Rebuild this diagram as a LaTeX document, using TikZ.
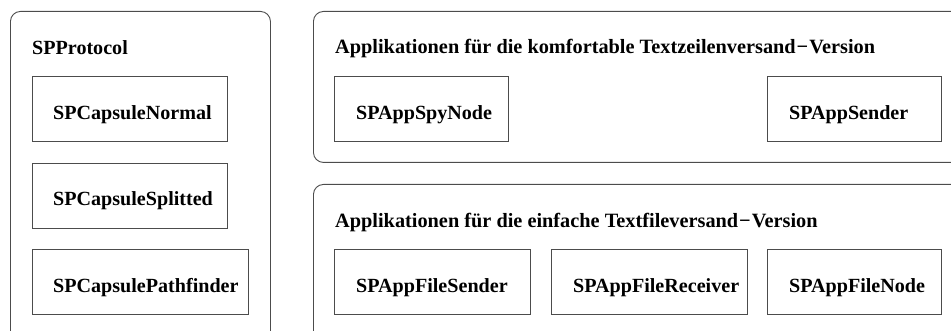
\documentclass[tikz,border=0pt]{standalone}
\usepackage{fontspec}
\setmainfont{Liberation Serif}
\begin{document}
\begin{tikzpicture}[x=1pt,y=-1pt,
  container/.style={draw=black!70, line width=0.9pt, rounded corners=10pt, anchor=north west, inner sep=0pt},
  box/.style={draw=black!70, line width=0.9pt, anchor=north west, inner sep=0pt, minimum height=65pt},
  lbl/.style={anchor=base west, inner sep=0pt, font=\fontsize{20.1}{24}\selectfont\bfseries},
  ttl/.style={anchor=base west, inner sep=0pt, font=\fontsize{20.3}{24}\selectfont\bfseries}]
\useasboundingbox (0,0) rectangle (951,331);
\clip (0,0) rectangle (951,331);
% containers
\node[container, minimum width=260pt, minimum height=340pt] (proto) at (10,11) {};
\node[container, minimum width=660pt, minimum height=151pt] (comf) at (313,11) {};
\node[container, minimum width=660pt, minimum height=170pt] (simple) at (313,184) {};
% titles
\node[lbl] (protoT) at (32,54.5) {SPProtocol};
\node[ttl] (comfT) at (335,54) {Applikationen für die komfortable Textzeilenversand\kern1pt−\kern1pt Version};
\node[ttl] (simpleT) at (335,227.7) {Applikationen für die einfache Textfileversand\kern1pt−\kern1pt Version};
% left boxes
\node[box, minimum width=195pt] (normal) at (32,76) {};
\node[lbl] (normalT) at (53,119.5) {SPCapsuleNormal};
\node[box, minimum width=195pt] (split) at (32,163) {};
\node[lbl] (splitT) at (53,206) {SPCapsuleSplitted};
\node[box, minimum width=216pt] (path) at (32,249) {};
\node[lbl] (pathT) at (53,292.5) {SPCapsulePathfinder};
% top right boxes
\node[box, minimum width=174pt] (spy) at (334,76) {};
\node[lbl] (spyT) at (356,119.5) {SPAppSpyNode};
\node[box, minimum width=174pt] (sender) at (767,76) {};
\node[lbl] (senderT) at (789,119.5) {SPAppSender};
% bottom right boxes
\node[box, minimum width=196pt] (fsend) at (334,249) {};
\node[lbl] (fsendT) at (356,292.5) {SPAppFileSender};
\node[box, minimum width=196pt] (frecv) at (551,249) {};
\node[lbl] (frecvT) at (573,292.5) {SPAppFileReceiver};
\node[box, minimum width=174pt] (fnode) at (767,249) {};
\node[lbl] (fnodeT) at (789,292.5) {SPAppFileNode};
\end{tikzpicture}
\end{document}
